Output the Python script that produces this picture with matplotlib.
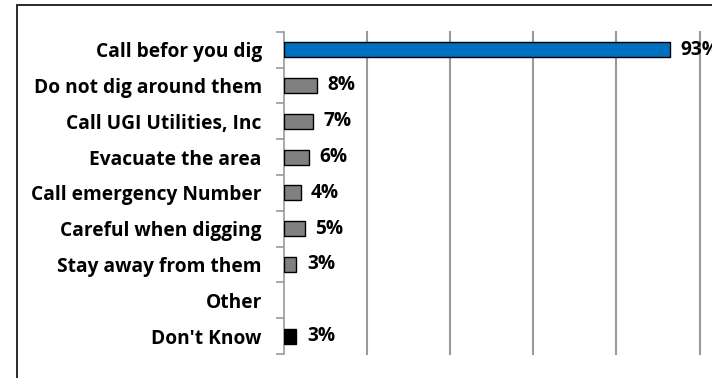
import matplotlib.pyplot as plt
from matplotlib.patches import Rectangle
import numpy as np

categories = ["Call befor you dig", "Do not dig around them", "Call UGI Utilities, Inc",
              "Evacuate the area", "Call emergency Number", "Careful when digging",
              "Stay away from them", "Other", "Don't Know"]
values = [93, 8, 7, 6, 4, 5, 3, None, 3]
colors = ["#0070C0", "#808080", "#808080", "#808080", "#808080", "#808080",
          "#808080", "#808080", "#000000"]

plt.rcParams['font.family'] = ['Open Sans', 'DejaVu Sans']

fig = plt.figure(figsize=(7.12, 3.78), dpi=100)
ax = fig.add_axes([284 / 712, 1 - 354 / 378, (699.5 - 284) / 712, (354 - 31.7) / 378])

# outer chart frame (extends past the right and bottom edges)
fig.patches.append(Rectangle((17 / 712, -0.1), 1.2, 1 - 5 / 378 + 0.1,
                             transform=fig.transFigure, fill=False,
                             edgecolor="#1a1a1a", linewidth=1.3))

y = np.arange(len(categories))
for yi, v, c in zip(y, values, colors):
    if v is None:
        continue
    ax.barh(yi, v, height=0.42, color=c, edgecolor="black", linewidth=1.0, zorder=3)
    ax.annotate(f"{v}%", xy=(v, yi), xytext=(7.5, 0), textcoords="offset points",
                va="center", ha="left", fontsize=13.8, fontweight="bold",
                annotation_clip=False, zorder=4)

ax.set_xlim(0, 100)
ax.set_ylim(len(categories) - 0.5, -0.5)

ax.set_yticks(y)
ax.set_yticklabels(categories, fontsize=13.8, fontweight="bold")
ax.tick_params(axis="y", which="major", length=0, pad=16)
ax.set_yticks(np.arange(len(categories) + 1) - 0.5, minor=True)
ax.tick_params(axis="y", which="minor", length=6, color="#999999", width=1.2)

ax.set_xticks([20, 40, 60, 80, 100])
ax.tick_params(axis="x", length=0, labelbottom=False)
ax.grid(axis="x", color="#999999", linewidth=1.5, zorder=0)
for gl in ax.get_xgridlines():
    gl.set_clip_on(False)

for s in ["top", "right", "bottom"]:
    ax.spines[s].set_visible(False)
ax.spines["left"].set_color("#999999")
ax.spines["left"].set_linewidth(1.2)

fig.savefig("out.png", dpi=100)
